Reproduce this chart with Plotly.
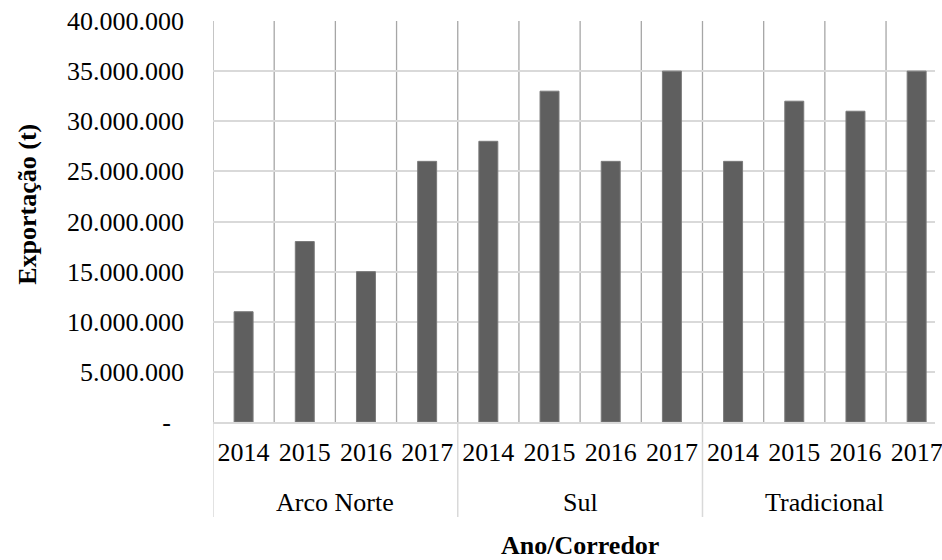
import plotly.graph_objects as go

# Export volumes (t) per corridor and year
corridors = ["Arco Norte", "Sul", "Tradicional"]
years = ["2014", "2015", "2016", "2017"]
arco_norte = [11_000_000, 18_000_000, 15_000_000, 26_000_000]
sul = [28_000_000, 33_000_000, 26_000_000, 35_000_000]
tradicional = [26_000_000, 32_000_000, 31_000_000, 35_000_000]
y_ticks = [0, 5_000_000, 10_000_000, 15_000_000, 20_000_000,
           25_000_000, 30_000_000, 35_000_000, 40_000_000]

values = arco_norte + sul + tradicional
n_years = len(years)
x_pos = list(range(len(values)))
x_labels = years * len(corridors)

FONT = "Liberation Serif"
GRID = "#d9d9d9"
DIVIDER = "#a6a6a6"


def fmt(v):
    if v == 0:
        return "-\u00a0\u00a0"
    return f"{v:,}".replace(",", ".")


fig = go.Figure(
    go.Bar(
        x=x_pos,
        y=values,
        width=0.31,
        marker=dict(color="#5f5f5f", line=dict(color="#7a7a7a", width=1)),
        hoverinfo="skip",
    )
)

# Bottom axis spans all categories; the right end runs past the page edge
x_min, x_max = -0.5, 11.3
plot_h = 401.0   # plot height in px
zero_px = 422.0  # pixel row of the value axis baseline
left_px, page_w = 213.0, 942.0


def paper_y(px):
    return (zero_px - px) / plot_h


def paper_x(px):
    return (px - left_px) / (page_w - left_px)


shapes = []
# vertical category separators inside the plot
for k in range(len(values)):
    shapes.append(dict(type="line", xref="x", yref="paper",
                       x0=k - 0.5, x1=k - 0.5, y0=0, y1=1,
                       line=dict(color=DIVIDER, width=1.3), layer="below"))
# group separators below the axis
for g in range(len(corridors)):
    xs = g * n_years - 0.5
    shapes.append(dict(type="line", xref="x", yref="paper",
                       x0=xs, x1=xs, y0=0, y1=paper_y(517),
                       line=dict(color=GRID, width=1.5)))

annotations = []
for g, name in enumerate(corridors):
    annotations.append(dict(x=g * n_years + (n_years - 1) / 2, xref="x",
                            y=paper_y(502), yref="paper", yanchor="middle",
                            text=name, showarrow=False,
                            font=dict(family=FONT, size=26, color="#000")))

# axis titles, centred on the full category range / plot height
annotations.append(dict(x=(len(values) - 1) / 2, xref="x",
                        y=paper_y(545), yref="paper", yanchor="middle",
                        text="<b>Ano/Corredor</b>", showarrow=False,
                        font=dict(family=FONT, size=26, color="#000")))
annotations.append(dict(x=paper_x(25), xref="paper",
                        y=paper_y(204), yref="paper",
                        text="<b>Exportação (t)</b>", showarrow=False,
                        textangle=-90, xanchor="center", yanchor="middle",
                        font=dict(family=FONT, size=26, color="#000")))

fig.update_layout(
    width=942,
    height=560,
    margin=dict(l=213, r=0, t=21, b=138, pad=0),
    paper_bgcolor="white",
    plot_bgcolor="white",
    showlegend=False,
    font=dict(family=FONT, size=26, color="#000"),
    shapes=shapes,
    annotations=annotations,
    xaxis=dict(
        range=[x_min, x_max],
        tickvals=x_pos,
        ticktext=x_labels,
        showgrid=False,
        zeroline=False,
        showline=True,
        linecolor=GRID,
        linewidth=1.5,
        ticks="",
        ticklabelstandoff=6,
        ticklabeloverflow="allow",
        tickfont=dict(family=FONT, size=26, color="#000"),
        fixedrange=True,
    ),
    yaxis=dict(
        range=[0, 40_000_000],
        tickvals=y_ticks,
        ticktext=[fmt(v) for v in y_ticks],
        showgrid=True,
        gridcolor=GRID,
        gridwidth=1.5,
        zeroline=False,
        showline=False,
        ticks="",
        ticklabelstandoff=28,
        tickfont=dict(family=FONT, size=26, color="#000"),
        fixedrange=True,
    ),
)

fig.write_html("out.html")
